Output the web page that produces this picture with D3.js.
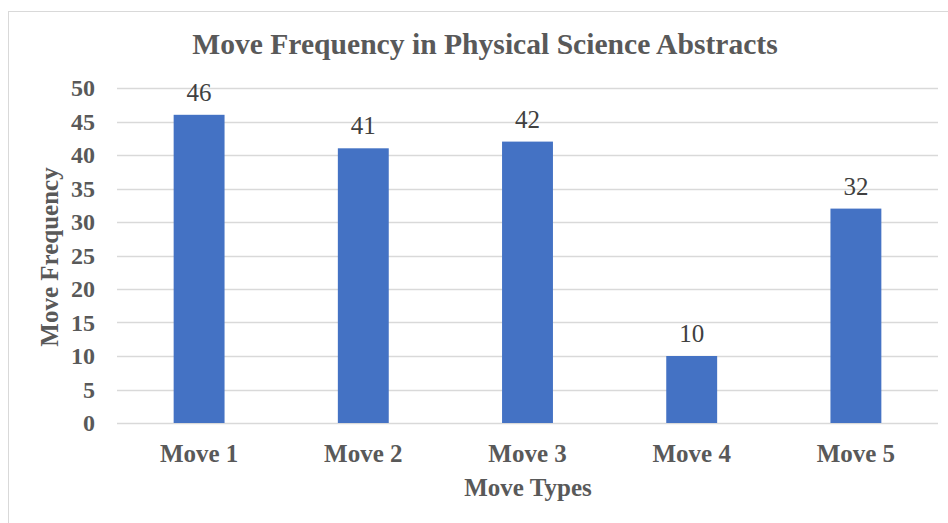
<!DOCTYPE html>
<html><head><meta charset="utf-8">
<script src="https://cdn.jsdelivr.net/npm/d3@7"></script>
<style>body{margin:0;background:#fff;} svg{display:block;}</style>
</head><body>
<svg id="chart" width="948" height="523"></svg>
<script>
const categories = ["Move 1", "Move 2", "Move 3", "Move 4", "Move 5"];
const values = [46, 41, 42, 10, 32];
const yTicks = [0, 5, 10, 15, 20, 25, 30, 35, 40, 45, 50];
const titleText = "Move Frequency in Physical Science Abstracts";
const xTitle = "Move Types";
const yTitle = "Move Frequency";

const svg = d3.select("#chart");
const W = 948, H = 523;
const m = {left: 117, right: 10, top: 88, bottom: 100};
const font = "Liberation Serif, Times New Roman, serif";

svg.append("rect").attr("x", 8.5).attr("y", 11.5).attr("width", W + 10).attr("height", H + 10)
  .attr("fill", "#fff").attr("stroke", "#d9d9d9").attr("stroke-width", 1);

const x = d3.scaleBand().domain(categories).range([m.left, W - m.right]).padding(0);
const y = d3.scaleLinear().domain([0, 50]).range([H - m.bottom, m.top]);

// gridlines
svg.append("g").selectAll("line").data(yTicks).join("line")
  .attr("x1", m.left).attr("x2", W - m.right)
  .attr("y1", d => Math.round(y(d)) + 0.5).attr("y2", d => Math.round(y(d)) + 0.5)
  .attr("stroke", "#d9d9d9").attr("stroke-width", 1.3);

// y axis
const yAxis = svg.append("g").attr("transform", `translate(${m.left},0)`)
  .call(d3.axisLeft(y).tickValues(yTicks).tickSize(0).tickPadding(22));
yAxis.select(".domain").remove();
yAxis.selectAll("text").attr("font-family", font).attr("font-weight", "bold")
  .attr("font-size", 24).attr("fill", "#595959");

// x axis
const xAxis = svg.append("g").attr("transform", `translate(0,${H - m.bottom})`)
  .call(d3.axisBottom(x).tickSize(0).tickPadding(21));
xAxis.select(".domain").remove();
xAxis.selectAll("text").attr("font-family", font).attr("font-weight", "bold")
  .attr("font-size", 25).attr("fill", "#595959");

// bars
const bw = x.bandwidth() * 0.31;
svg.append("g").selectAll("rect").data(values).join("rect")
  .attr("x", (d, i) => x(categories[i]) + x.bandwidth() / 2 - bw / 2)
  .attr("width", bw)
  .attr("y", d => y(d))
  .attr("height", d => y(0) - y(d))
  .attr("fill", "#4472C4");

// data labels
svg.append("g").selectAll("text").data(values).join("text")
  .attr("x", (d, i) => x(categories[i]) + x.bandwidth() / 2)
  .attr("y", d => y(d) - 14)
  .attr("text-anchor", "middle")
  .attr("font-family", font).attr("font-size", 25).attr("fill", "#404040")
  .text(d => d);

// title
svg.append("text").attr("x", 485).attr("y", 54).attr("text-anchor", "middle")
  .attr("font-family", font).attr("font-weight", "bold").attr("font-size", 29.6)
  .attr("fill", "#595959").text(titleText);

// axis titles
svg.append("text").attr("x", 528).attr("y", 496).attr("text-anchor", "middle")
  .attr("font-family", font).attr("font-weight", "bold").attr("font-size", 25)
  .attr("fill", "#595959").text(xTitle);

svg.append("text").attr("transform", `translate(58,257) rotate(-90)`).attr("text-anchor", "middle")
  .attr("font-family", font).attr("font-weight", "bold").attr("font-size", 25)
  .attr("fill", "#595959").text(yTitle);
</script>
</body></html>
